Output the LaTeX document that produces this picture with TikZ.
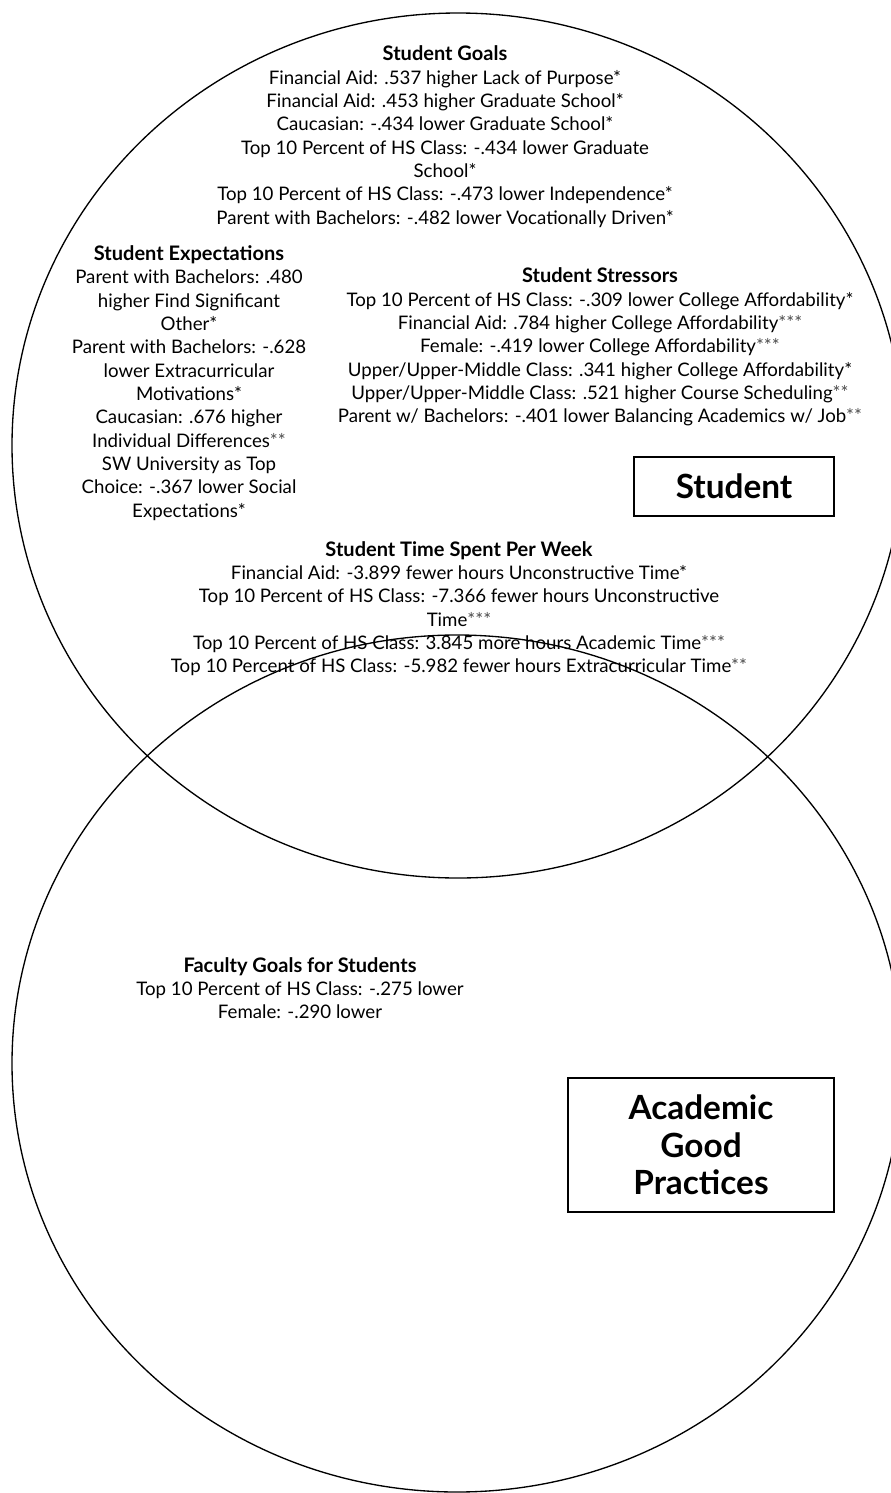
\documentclass[tikz,border=0pt]{standalone}
\usepackage{fontspec}
\setmainfont{Lato}
\newcommand{\ttl}[1]{{\fontsize{15}{17.5}\selectfont\bfseries #1}}
\newcommand{\stars}[1]{{\color{black!70}#1}}
\begin{document}
\begin{tikzpicture}[x=0.75pt,y=-0.75pt,
  body/.style={align=center,inner sep=0pt,font={\fontsize{14}{17.5}\selectfont}},
  labelbox/.style={draw,line width=1pt,align=center,inner sep=0pt,font={\fontsize{25}{28}\selectfont\bfseries}},
  venn/.style={line width=1pt}]
\useasboundingbox (0,0) rectangle (890,1493);
% circles
\draw[venn] (458,445.5) ellipse [x radius=446, y radius=432.5];
\draw[venn] (457,1063.5) ellipse [x radius=445, y radius=428.5];
% texts
\node[body] (goals) at (445,136.5) {\ttl{Student Goals}\\
Financial Aid: .537 higher Lack of Purpose*\\
Financial Aid: .453 higher Graduate School*\\
Caucasian: -.434 lower Graduate School*\\
Top 10 Percent of HS Class: -.434 lower Graduate\\
School*\\
Top 10 Percent of HS Class: -.473 lower Independence*\\
Parent with Bachelors: -.482 lower Vocationally Driven*};
\node[body] (expect) at (189,383) {\ttl{Student Expectations}\\
Parent with Bachelors: .480\\
higher Find Significant\\
Other*\\
Parent with Bachelors: -.628\\
lower Extracurricular\\
Motivations*\\
Caucasian: .676 higher\\
Individual Differences\stars{**}\\
SW University as Top\\
Choice: -.367 lower Social\\
Expectations*};
\node[body] (stress) at (600,347) {\ttl{Student Stressors}\\
Top 10 Percent of HS Class: -.309 lower College Affordability*\\
Financial Aid: .784 higher College Affordability\stars{***}\\
Female: -.419 lower College Affordability\stars{***}\\
Upper/Upper-Middle Class: .341 higher College Affordability*\\
Upper/Upper-Middle Class: .521 higher Course Scheduling\stars{**}\\
Parent w/ Bachelors: -.401 lower Balancing Academics w/ Job\stars{**}};
\node[body] (time) at (459,608.5) {\ttl{Student Time Spent Per Week}\\
Financial Aid: -3.899 fewer hours Unconstructive Time*\\
Top 10 Percent of HS Class: -7.366 fewer hours Unconstructive\\
Time\stars{***}\\
Top 10 Percent of HS Class: 3.845 more hours Academic Time\stars{***}\\
Top 10 Percent of HS Class: -5.982 fewer hours Extracurricular Time\stars{**}};
\node[body] (faculty) at (300,988) {\ttl{Faculty Goals for Students}\\
Top 10 Percent of HS Class: -.275 lower\\
Female: -.290 lower};
% boxes
\node[labelbox,minimum width=200*0.75pt,minimum height=59*0.75pt] (studentbox) at (734,486.5) {Student};
\node[labelbox,minimum width=266*0.75pt,minimum height=134*0.75pt] (acadbox) at (701,1145) {Academic\\Good\\Practices};
\end{tikzpicture}
\end{document}
